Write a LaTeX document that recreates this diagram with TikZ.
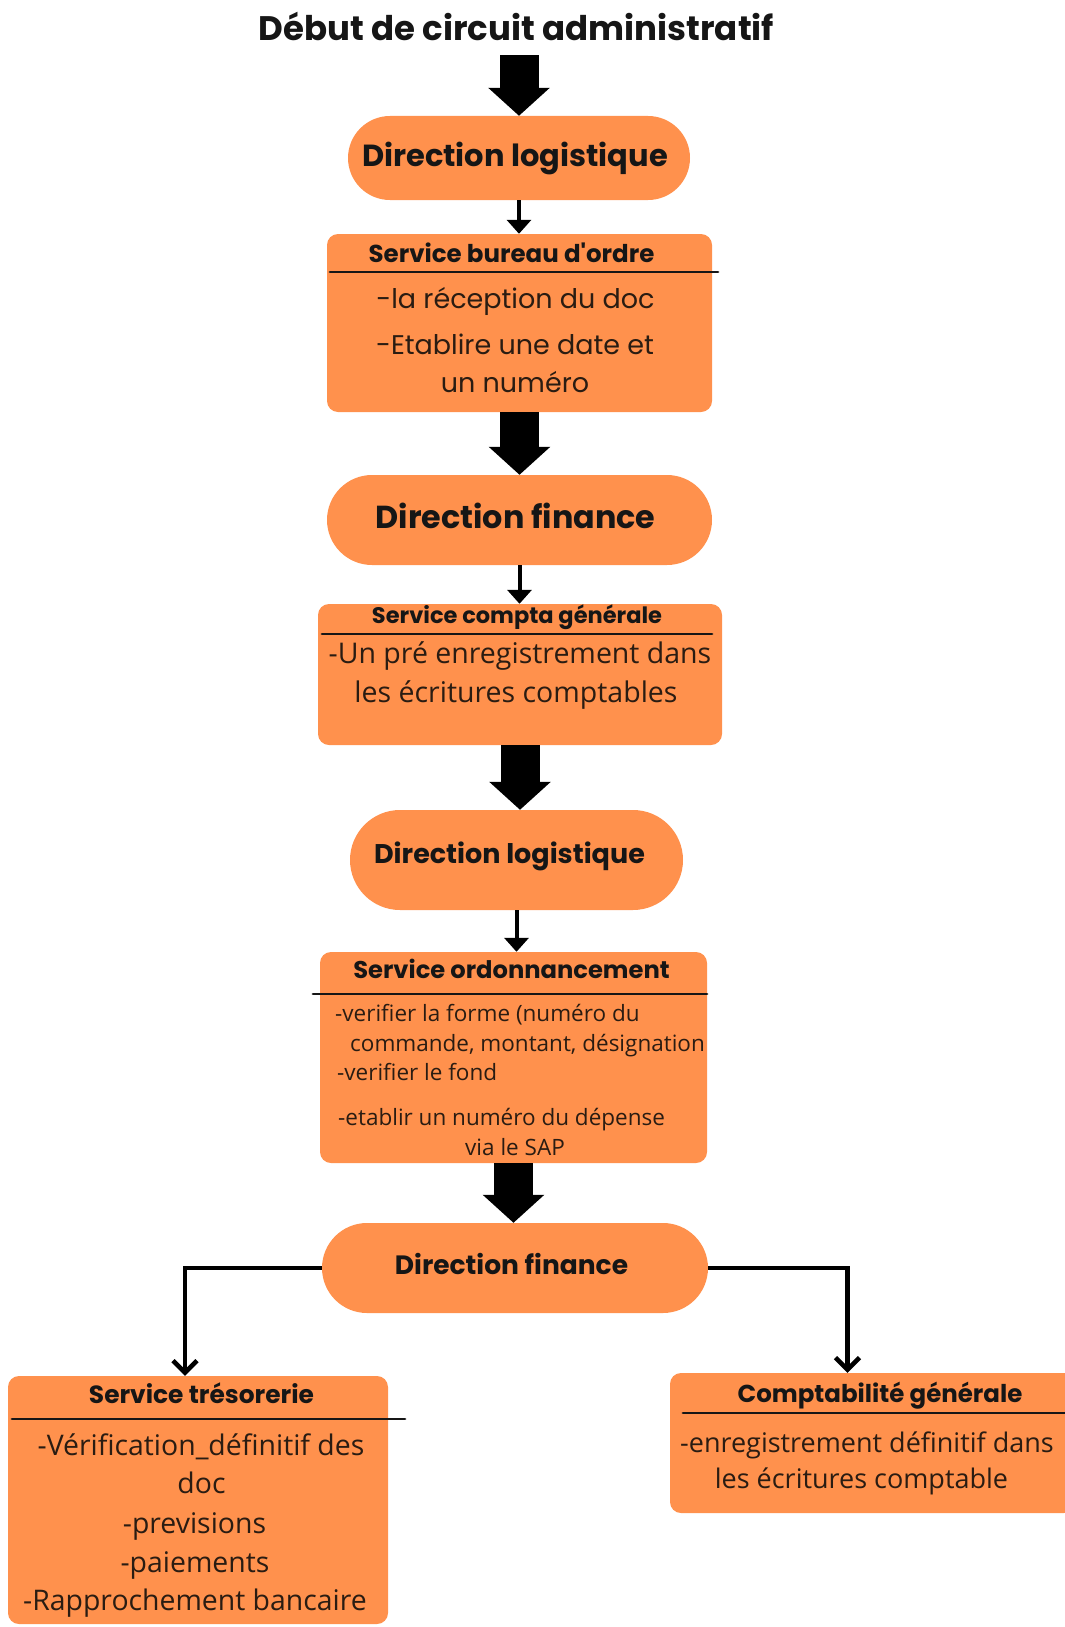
\documentclass[tikz,border=0pt]{standalone}
\usepackage{fontspec}
\usetikzlibrary{arrows.meta}
\setmainfont{Open Sans}
\newfontfamily\geofont{Poppins}
\definecolor{boxorange}{HTML}{FF914D}
\definecolor{ink}{HTML}{161616}
\definecolor{bodyink}{HTML}{2A1C12}

\tikzset{
  pill/.style={fill=boxorange, draw=none, rounded corners=#1, inner sep=0pt},
  card/.style={fill=boxorange, draw=none, rounded corners=11pt, inner sep=0pt},
  bigarrow/.style={draw=black, line width=39pt,
    -{Triangle[width=60pt,length=28pt]}},
  smallarrow/.style={draw=black, line width=4pt,
    -{Triangle[width=24pt,length=14pt]}},
  sidearrow/.style={draw=black, line width=4.5pt,
    -{Straight Barb[width=24pt,length=12pt,line width=4.5pt]}},
  rule/.style={draw=ink, line width=2.8pt, line cap=round},
  headtxt/.style={anchor=base, inner sep=0pt, text=ink, font=\geofont\bfseries\fontsize{#1}{#1}\selectfont},
  geotxt/.style={anchor=base, inner sep=0pt, text=bodyink, font=\geofont\fontsize{#1}{#1}\selectfont},
  bodytxt/.style={anchor=base, inner sep=0pt, text=bodyink, font=\fontsize{#1}{#1}\selectfont},
}

\begin{document}
\begin{tikzpicture}[x=1pt, y=-1pt]
\useasboundingbox (0,0) rectangle (1065,1627);

% title
\node[headtxt=34] (title) at (516.5,41) {Début de circuit administratif};

% shapes of the chain
\node[pill=42pt, minimum width=342pt, minimum height=84pt] (dl1) at (519,158) {};
\node[card, minimum width=385pt, minimum height=178pt] (bo) at (519.5,323) {};
\node[pill=45pt, minimum width=385pt, minimum height=90pt] (df1) at (519.5,520) {};
\node[card, minimum width=404pt, minimum height=141pt] (cg) at (520,674.5) {};
\node[pill=50pt, minimum width=333pt, minimum height=100pt] (dl2) at (516.5,860) {};
\node[card, minimum width=387pt, minimum height=211pt] (ord) at (513.5,1057.5) {};
\node[pill=45pt, minimum width=386pt, minimum height=90pt] (df2) at (515,1268) {};
\node[card, minimum width=380pt, minimum height=248pt] (tre) at (198,1500) {};
\node[card, minimum width=405pt, minimum height=140pt] (cpt) at (872.5,1443) {};

% captions of the directions
\node[headtxt=30.5] (dl1t) at (515,166) {Direction logistique};
\node[headtxt=31.8] (df1t) at (515.5,528) {Direction finance};
\node[headtxt=27] (dl2t) at (509.5,863) {Direction logistique};
\node[headtxt=26.5] (df2t) at (511.5,1274) {Direction finance};

% Service bureau d'ordre
\node[headtxt=24.5] (boh) at (511.5,262) {Service bureau d'ordre};
\draw[rule] (330,272) -- (718,272);
\node[geotxt=27] (bo1) at (515.5,308) {-la réception du doc};
\node[geotxt=27] (bo2) at (515,354) {-Etablire une date et};
\node[geotxt=27] (bo3) at (515,392) {un numéro};

% Service compta générale
\node[headtxt=22.5] (cgh) at (517,623) {Service compta générale};
\draw[rule] (322,634) -- (712,634);
\node[bodytxt=28.5] (cg1) at (520,663) {-Un pré enregistrement dans};
\node[bodytxt=28.5] (cg2) at (516,702) {les écritures comptables};

% Service ordonnancement
\node[headtxt=24.2] (ordh) at (511.5,978) {Service ordonnancement};
\draw[rule] (313,994) -- (707,994);
\node[bodytxt=22.5, anchor=base west] (ord1) at (335,1021) {-verifier la forme (numéro du};
\node[bodytxt=22.5, anchor=base west] (ord2) at (350,1051) {commande, montant, désignation};
\node[bodytxt=22.5, anchor=base west] (ord3) at (337,1080) {-verifier le fond};
\node[bodytxt=22.5, anchor=base west] (ord4) at (338,1125) {-etablir un numéro du dépense};
\node[bodytxt=22.5] (ord5) at (515,1155) {via le SAP};

% Service trésorerie
\node[headtxt=24.9] (treh) at (201.5,1403) {Service trésorerie};
\draw[rule] (12,1419) -- (405,1419);
\node[bodytxt=28.4] (tre1) at (201,1455) {-Vérification\_définitif des};
\node[bodytxt=28.4] (tre2) at (201.5,1493) {doc};
\node[bodytxt=28.4] (tre3) at (194.5,1533) {-previsions};
\node[bodytxt=28.4] (tre4) at (195,1572) {-paiements};
\node[bodytxt=28.4] (tre5) at (195,1610) {-Rapprochement bancaire};

% Comptabilité générale
\node[headtxt=24.5] (cpth) at (880,1402) {Comptabilité générale};
\draw[rule] (683,1413) -- (1065,1413);
\node[bodytxt=27] (cpt1) at (867,1452) {-enregistrement définitif dans};
\node[bodytxt=27] (cpt2) at (861.5,1488) {les écritures comptable};

% flow arrows
\draw[bigarrow] ([yshift=-14pt]title.south -| dl1.north) -- (dl1.north);
\draw[smallarrow] (dl1.south) -- (dl1.south |- bo.north);
\draw[bigarrow] (bo.south) -- (bo.south |- df1.north);
\draw[smallarrow] (df1.south) -- (df1.south |- cg.north);
\draw[bigarrow] (cg.south) -- (cg.south |- dl2.north);
\draw[smallarrow] (dl2.south) -- (dl2.south |- ord.north);
\draw[bigarrow] (ord.south) -- (ord.south |- df2.north);
\draw[sidearrow] (df2.west) -| ([xshift=-13pt]tre.north);
\draw[sidearrow] (df2.east) -| ([xshift=-25pt]cpt.north);
\end{tikzpicture}
\end{document}
